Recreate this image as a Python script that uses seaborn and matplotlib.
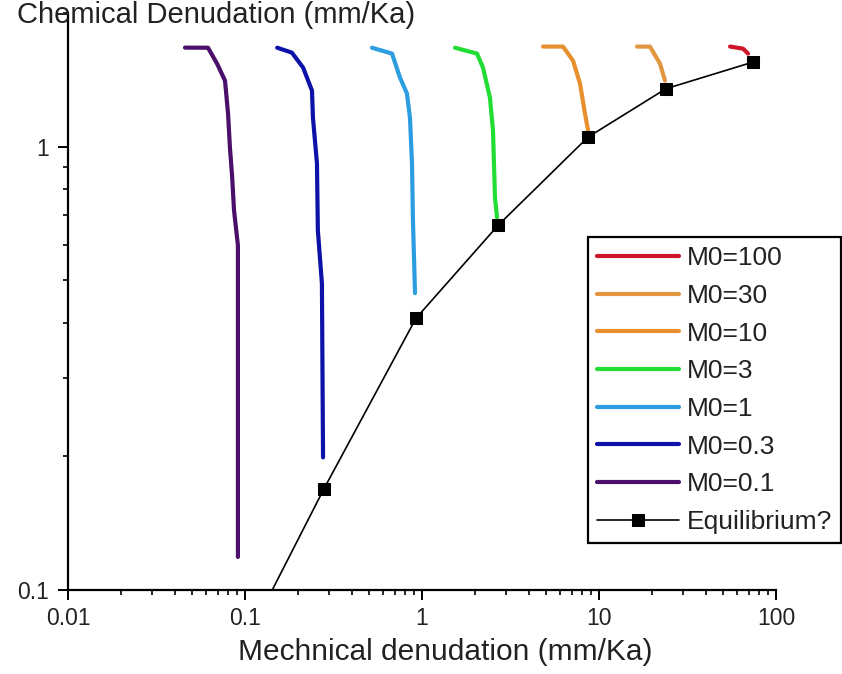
import numpy as np
import pandas as pd
import matplotlib
matplotlib.use("Agg")
import matplotlib.pyplot as plt
import seaborn as sns

# ---- data ----
labels = ["M0=100", "M0=30", "M0=10", "M0=3", "M0=1", "M0=0.3", "M0=0.1"]
colors = ["#d0142a", "#e39640", "#e8902e", "#22dd33", "#2b9de0", "#0c12a8", "#4a0f6b"]

m100_x = [55.0, 65.1, 69.5]
m100_y = [1.68, 1.662, 1.62]

m30_x = [16.4, 19.4, 22.1, 23.6]
m30_y = [1.68, 1.68, 1.538, 1.408]

m10_x = [4.83, 6.26, 7.13, 7.81, 8.33, 8.67]
m10_y = [1.68, 1.68, 1.562, 1.387, 1.187, 1.087]

m3_x = [1.536, 2.045, 2.211, 2.42, 2.518, 2.584, 2.653]
m3_y = [1.67, 1.62, 1.506, 1.289, 1.087, 0.767, 0.692]

m1_x = [0.522, 0.677, 0.751, 0.822, 0.855, 0.878, 0.889, 0.913]
m1_y = [1.67, 1.62, 1.43, 1.317, 1.162, 0.916, 0.681, 0.467]

m03_x = [0.152, 0.184, 0.213, 0.239, 0.242, 0.255, 0.258, 0.272, 0.276]
m03_y = [1.67, 1.628, 1.506, 1.337, 1.162, 0.916, 0.647, 0.491, 0.199]

m01_x = [0.0458, 0.0618, 0.0695, 0.0771, 0.0802, 0.0822, 0.0845, 0.0867, 0.0912, 0.0912]
m01_y = [1.671, 1.67, 1.538, 1.408, 1.187, 0.995, 0.86, 0.718, 0.598, 0.1187]

eq_x = [0.087, 0.279, 0.925, 2.69, 8.67, 23.9, 74.1]
eq_y = [0.068, 0.169, 0.41, 0.664, 1.05, 1.35, 1.55]

series_x = [m100_x, m30_x, m10_x, m3_x, m1_x, m03_x, m01_x]
series_y = [m100_y, m30_y, m10_y, m3_y, m1_y, m03_y, m01_y]

# ---- styling ----
sns.set_style("ticks")
plt.rcParams["font.family"] = ["Liberation Sans", "DejaVu Sans"]

fig = plt.figure(figsize=(8.42, 6.74), dpi=100)
ax = fig.add_axes([68 / 842, 1 - 590 / 674, 708 / 842, 577 / 674])

for lab, col, xs, ys in zip(labels, colors, series_x, series_y):
    df = pd.DataFrame({"x": xs, "y": ys})
    sns.lineplot(data=df, x="x", y="y", sort=False, estimator=None,
                 color=col, linewidth=3.0, label=lab, ax=ax)

eq_df = pd.DataFrame({"x": eq_x, "y": eq_y})
sns.lineplot(data=eq_df, x="x", y="y", sort=False, estimator=None,
             color="black", linewidth=1.2, marker="s", markersize=9,
             markeredgecolor="black", markerfacecolor="black",
             label="Equilibrium?", ax=ax)

ax.set_xscale("log")
ax.set_yscale("log")
ax.set_xlim(0.01, 100)
ax.set_ylim(0.1, 2.0)

ax.set_xticks([0.01, 0.1, 1, 10, 100])
ax.set_xticklabels(["0.01", "0.1", "1", "10", "100"])
ax.set_yticks([0.1, 1])
ax.set_yticklabels(["0.1", "1"])

sns.despine(ax=ax, top=True, right=True)
for s in ["left", "bottom"]:
    ax.spines[s].set_linewidth(1.6)
    ax.spines[s].set_color("black")

ax.tick_params(axis="both", which="major", length=7, width=1.4, colors="black",
               labelsize=16.5, labelcolor="#222222")
ax.tick_params(axis="both", which="minor", length=3.5, width=1.2, colors="black")
ax.tick_params(axis="y", which="major", pad=7)
ax.tick_params(axis="x", which="major", pad=5)

ax.set_xlabel("Mechnical denudation (mm/Ka)", fontsize=21.5, color="#222222")
ax.set_ylabel("")
ax.xaxis.set_label_coords((445 - 68) / 708, (590 - 652) / 577)
ax.xaxis.label.set_va("center")

fig.text(17 / 842, 0.999, "Chemical Denudation (mm/Ka)", fontsize=21,
         ha="left", va="top", color="#222222")

leg = ax.legend(loc="upper right", bbox_to_anchor=(1.092, 0.612),
                borderaxespad=0, frameon=True, fancybox=False, fontsize=19,
                handlelength=3.1, handletextpad=0.3, labelspacing=0.52,
                borderpad=0.35, numpoints=1)
leg.get_frame().set_edgecolor("black")
leg.get_frame().set_linewidth(1.6)
leg.get_frame().set_alpha(1)
for t in leg.get_texts():
    t.set_color("#222222")

fig.savefig("out.png", dpi=100)
